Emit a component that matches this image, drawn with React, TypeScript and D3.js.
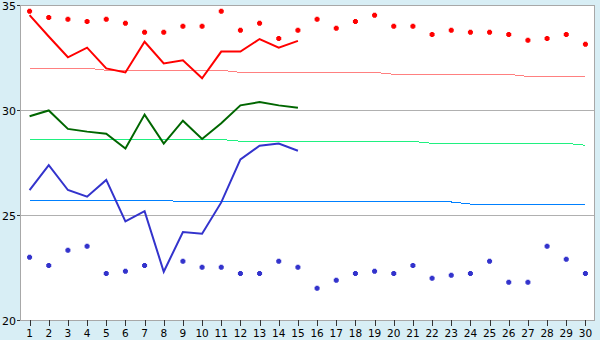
import React from "react";
import * as d3 from "d3";

const days: number[] = d3.range(1, 31);
const yTicks: number[] = [20, 25, 30, 35];

// mean lines (days 1..15)
const redLine: number[] = [34.52, 33.5, 32.51, 32.97, 31.98, 31.79, 33.25, 32.22, 32.37, 31.51, 32.78, 32.78, 33.38, 32.97, 33.29];
const greenLine: number[] = [29.7, 29.98, 29.1, 28.97, 28.87, 28.17, 29.78, 28.4, 29.49, 28.62, 29.37, 30.22, 30.38, 30.22, 30.11];
const blueLine: number[] = [26.18, 27.37, 26.19, 25.87, 26.67, 24.7, 25.18, 22.3, 24.19, 24.11, 25.6, 27.65, 28.3, 28.4, 28.06];

// max markers (red) and min markers (blue), days 1..30
const redMax: (number | null)[] = [34.7, 34.41, 34.32, 34.22, 34.32, 34.13, 33.7, 33.7, 33.99, 33.99, 34.7, 33.8, 34.13, 33.41, 33.8, 34.32, 33.89, 34.22, 34.51, 33.99, 33.99, 33.6, 33.8, 33.7, 33.7, 33.6, 33.32, 33.41, 33.6, 33.13];
const blueMin: (number | null)[] = [22.99, 22.6, 23.32, 23.51, 22.22, 22.32, 22.6, null, 22.8, 22.51, 22.51, 22.22, 22.22, 22.8, 22.51, 21.51, 21.89, 22.22, 22.32, 22.22, 22.6, 21.99, 22.13, 22.22, 22.8, 21.8, 21.8, 23.51, 22.89, 22.22];

// reference (normal) lines, days 1..30
const redRef: number[] = [32.0, 32.0, 32.0, 32.0, 31.89, 31.89, 31.89, 31.89, 31.89, 31.89, 31.89, 31.79, 31.79, 31.79, 31.79, 31.79, 31.79, 31.79, 31.79, 31.7, 31.7, 31.7, 31.7, 31.7, 31.7, 31.7, 31.6, 31.6, 31.6, 31.6];
const greenRef: number[] = [28.6, 28.6, 28.6, 28.6, 28.6, 28.6, 28.6, 28.6, 28.6, 28.6, 28.6, 28.51, 28.51, 28.51, 28.51, 28.51, 28.51, 28.51, 28.51, 28.51, 28.51, 28.41, 28.41, 28.41, 28.41, 28.41, 28.41, 28.41, 28.41, 28.32];
const blueRef: number[] = [25.71, 25.71, 25.71, 25.71, 25.71, 25.71, 25.71, 25.71, 25.62, 25.62, 25.62, 25.62, 25.62, 25.62, 25.62, 25.62, 25.62, 25.62, 25.62, 25.62, 25.62, 25.62, 25.62, 25.52, 25.52, 25.52, 25.52, 25.52, 25.52, 25.52];

const W = 600;
const H = 340;
const L = 20, R = 595, T = 5, B = 320;

const plusSymbol = {
  draw(context: any, size: number) {
    const a = 2.5, b = 1.5;
    context.moveTo(-b, -a);
    context.lineTo(b, -a);
    context.lineTo(b, -b);
    context.lineTo(a, -b);
    context.lineTo(a, b);
    context.lineTo(b, b);
    context.lineTo(b, a);
    context.lineTo(-b, a);
    context.lineTo(-b, b);
    context.lineTo(-a, b);
    context.lineTo(-a, -b);
    context.lineTo(-b, -b);
    context.closePath();
  },
};

export default function App() {
  const x = d3.scaleLinear().domain([0.5, 30.5]).range([L, R]);
  const y = d3.scaleLinear().domain([20, 35]).range([B, T]);
  const line = d3
    .line<number>()
    .x((_, i) => x(days[i]))
    .y((v) => y(v));
  const sym = d3.symbol().type(plusSymbol as any)();
  const font = "'DejaVu Sans', Verdana, sans-serif";

  return (
    <svg width={W} height={H} style={{ position: "absolute", left: 0, top: 0, display: "block" }}>
      <rect x={0} y={0} width={W} height={H} fill="#d8eef5" />
      <rect x={L} y={T} width={R - L} height={B - T} fill="#ffffff" />
      {yTicks.map((t) => (
        <line key={"g" + t} x1={L} x2={R} y1={Math.round(y(t)) + 0.5} y2={Math.round(y(t)) + 0.5} stroke="#b0b0b0" strokeWidth={1} shapeRendering="crispEdges" />
      ))}
      <rect x={L + 0.5} y={T + 0.5} width={R - L - 1} height={B - T} fill="none" stroke="#a8a8a8" strokeWidth={1} shapeRendering="crispEdges" />
      {yTicks.map((t) => (
        <g key={"yt" + t}>
          <line x1={L - 3} x2={L} y1={Math.round(y(t)) + 0.5} y2={Math.round(y(t)) + 0.5} stroke="#333" shapeRendering="crispEdges" />
          <text x={L - 4} y={y(t) + 1} textAnchor="end" dominantBaseline="central" fontFamily={font} fontSize={11} fill="#000">
            {t}
          </text>
        </g>
      ))}
      {days.map((d) => (
        <g key={"xt" + d}>
          <line x1={Math.round(x(d)) + 0.5} x2={Math.round(x(d)) + 0.5} y1={B} y2={B + 6} stroke="#333" shapeRendering="crispEdges" />
          <text x={x(d)} y={B + 17} textAnchor="middle" fontFamily={font} fontSize={10.5} fill="#000">
            {d}
          </text>
        </g>
      ))}
      <path d={line(redRef) || ""} fill="none" stroke="#ff8080" strokeWidth={1} shapeRendering="crispEdges" />
      <path d={line(greenRef) || ""} fill="none" stroke="#20f080" strokeWidth={1} shapeRendering="crispEdges" />
      <path d={line(blueRef) || ""} fill="none" stroke="#0080ff" strokeWidth={1} shapeRendering="crispEdges" />
      <path d={line(redLine) || ""} fill="none" stroke="#ff0000" strokeWidth={2} />
      <path d={line(greenLine) || ""} fill="none" stroke="#006600" strokeWidth={2} />
      <path d={line(blueLine) || ""} fill="none" stroke="#3333cc" strokeWidth={2} />
      {redMax.map((v, i) =>
        v == null ? null : <path key={"rm" + i} d={sym || ""} transform={`translate(${x(days[i])},${y(v)})`} fill="#ff0000" />
      )}
      {blueMin.map((v, i) =>
        v == null ? null : <path key={"bm" + i} d={sym || ""} transform={`translate(${x(days[i])},${y(v)})`} fill="#3333cc" />
      )}
    </svg>
  );
}
